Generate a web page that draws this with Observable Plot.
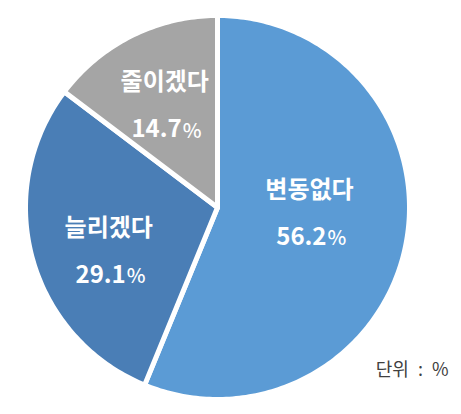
<!DOCTYPE html>
<html><head><meta charset="utf-8">
<script src="https://cdn.jsdelivr.net/npm/d3@7"></script>
<script src="https://cdn.jsdelivr.net/npm/@observablehq/plot@0.6"></script>
<style>
body{margin:0;background:#fff;}
</style></head><body><div id="chart"></div>
<script>
// ---- data ----
const categories = ["변동없다", "늘리겠다", "줄이겠다"];
const values = [56.2, 29.1, 14.7];
const colors = ["#5B9BD5", "#4A7EB6", "#A5A5A5"];
const unitLabel = "단위 : %";

// ---- layout ----
const W = 461, H = 414, CX = 217, CY = 207, R = 192;
const labelRadius = [0.48, 0.61, 0.60];
const labelShiftDeg = [-7.8, -6.5, -0.8];
const font = "'Noto Sans CJK KR', 'Noto Sans', sans-serif";

const total = d3.sum(values);
const slices = [];
let acc = 0;
values.forEach((v, i) => {
  const a0 = acc / total * 2 * Math.PI;
  acc += v;
  const a1 = acc / total * 2 * Math.PI;
  slices.push({name: categories[i], value: v, color: colors[i], a0, a1});
});

// polygon vertices (geometry of each slice)
const outline = [];
slices.forEach((s, i) => {
  outline.push({x: 0, y: 0, k: i, c: s.color});
  const n = Math.max(2, Math.ceil((s.a1 - s.a0) / (Math.PI / 180)));
  for (let j = 0; j <= n; j++) {
    const a = s.a0 + (s.a1 - s.a0) * j / n;
    outline.push({x: Math.sin(a), y: Math.cos(a), k: i, c: s.color});
  }
  outline.push({x: 0, y: 0, k: i, c: s.color});
});

const labels = slices.map((s, i) => {
  const a = (s.a0 + s.a1) / 2 + labelShiftDeg[i] * Math.PI / 180;
  return {name: s.name, value: s.value, lx: labelRadius[i] * Math.sin(a), ly: labelRadius[i] * Math.cos(a)};
});

const chart = Plot.plot({
  width: W, height: H,
  margin: 0,
  x: {domain: [-1, 1], range: [CX - R, CX + R], axis: null},
  y: {domain: [-1, 1], range: [CY + R, CY - R], axis: null},
  color: {type: "identity"},
  style: {background: "#fff", fontFamily: font},
  marks: [
    Plot.line(outline, {x: "x", y: "y", z: "k", fill: "c", stroke: "#fff", strokeWidth: 5, strokeLinejoin: "round"}),
    Plot.text(labels, {x: "lx", y: "ly", text: "name", dy: -23, fill: "#fff", fontSize: 24, fontWeight: 700, fontFamily: font}),
    Plot.text(labels, {x: "lx", y: "ly", text: d => d.value.toFixed(1), dy: 24, dx: 17, textAnchor: "end", fill: "#fff", fontSize: 24, fontWeight: 700, fontFamily: font}),
    Plot.text(labels, {x: "lx", y: "ly", text: d => "%", dy: 26, dx: 18, textAnchor: "start", fill: "#fff", fontSize: 20, fontWeight: 500, fontFamily: font}),
    Plot.text([unitLabel], {frameAnchor: "bottom-right", text: d => d.replace(/ /g, "\u2002"), textAnchor: "end", dx: -13, dy: -39, fill: "#404040", fontSize: 18, fontFamily: font})
  ]
});
document.getElementById("chart").appendChild(chart);
</script></body></html>
